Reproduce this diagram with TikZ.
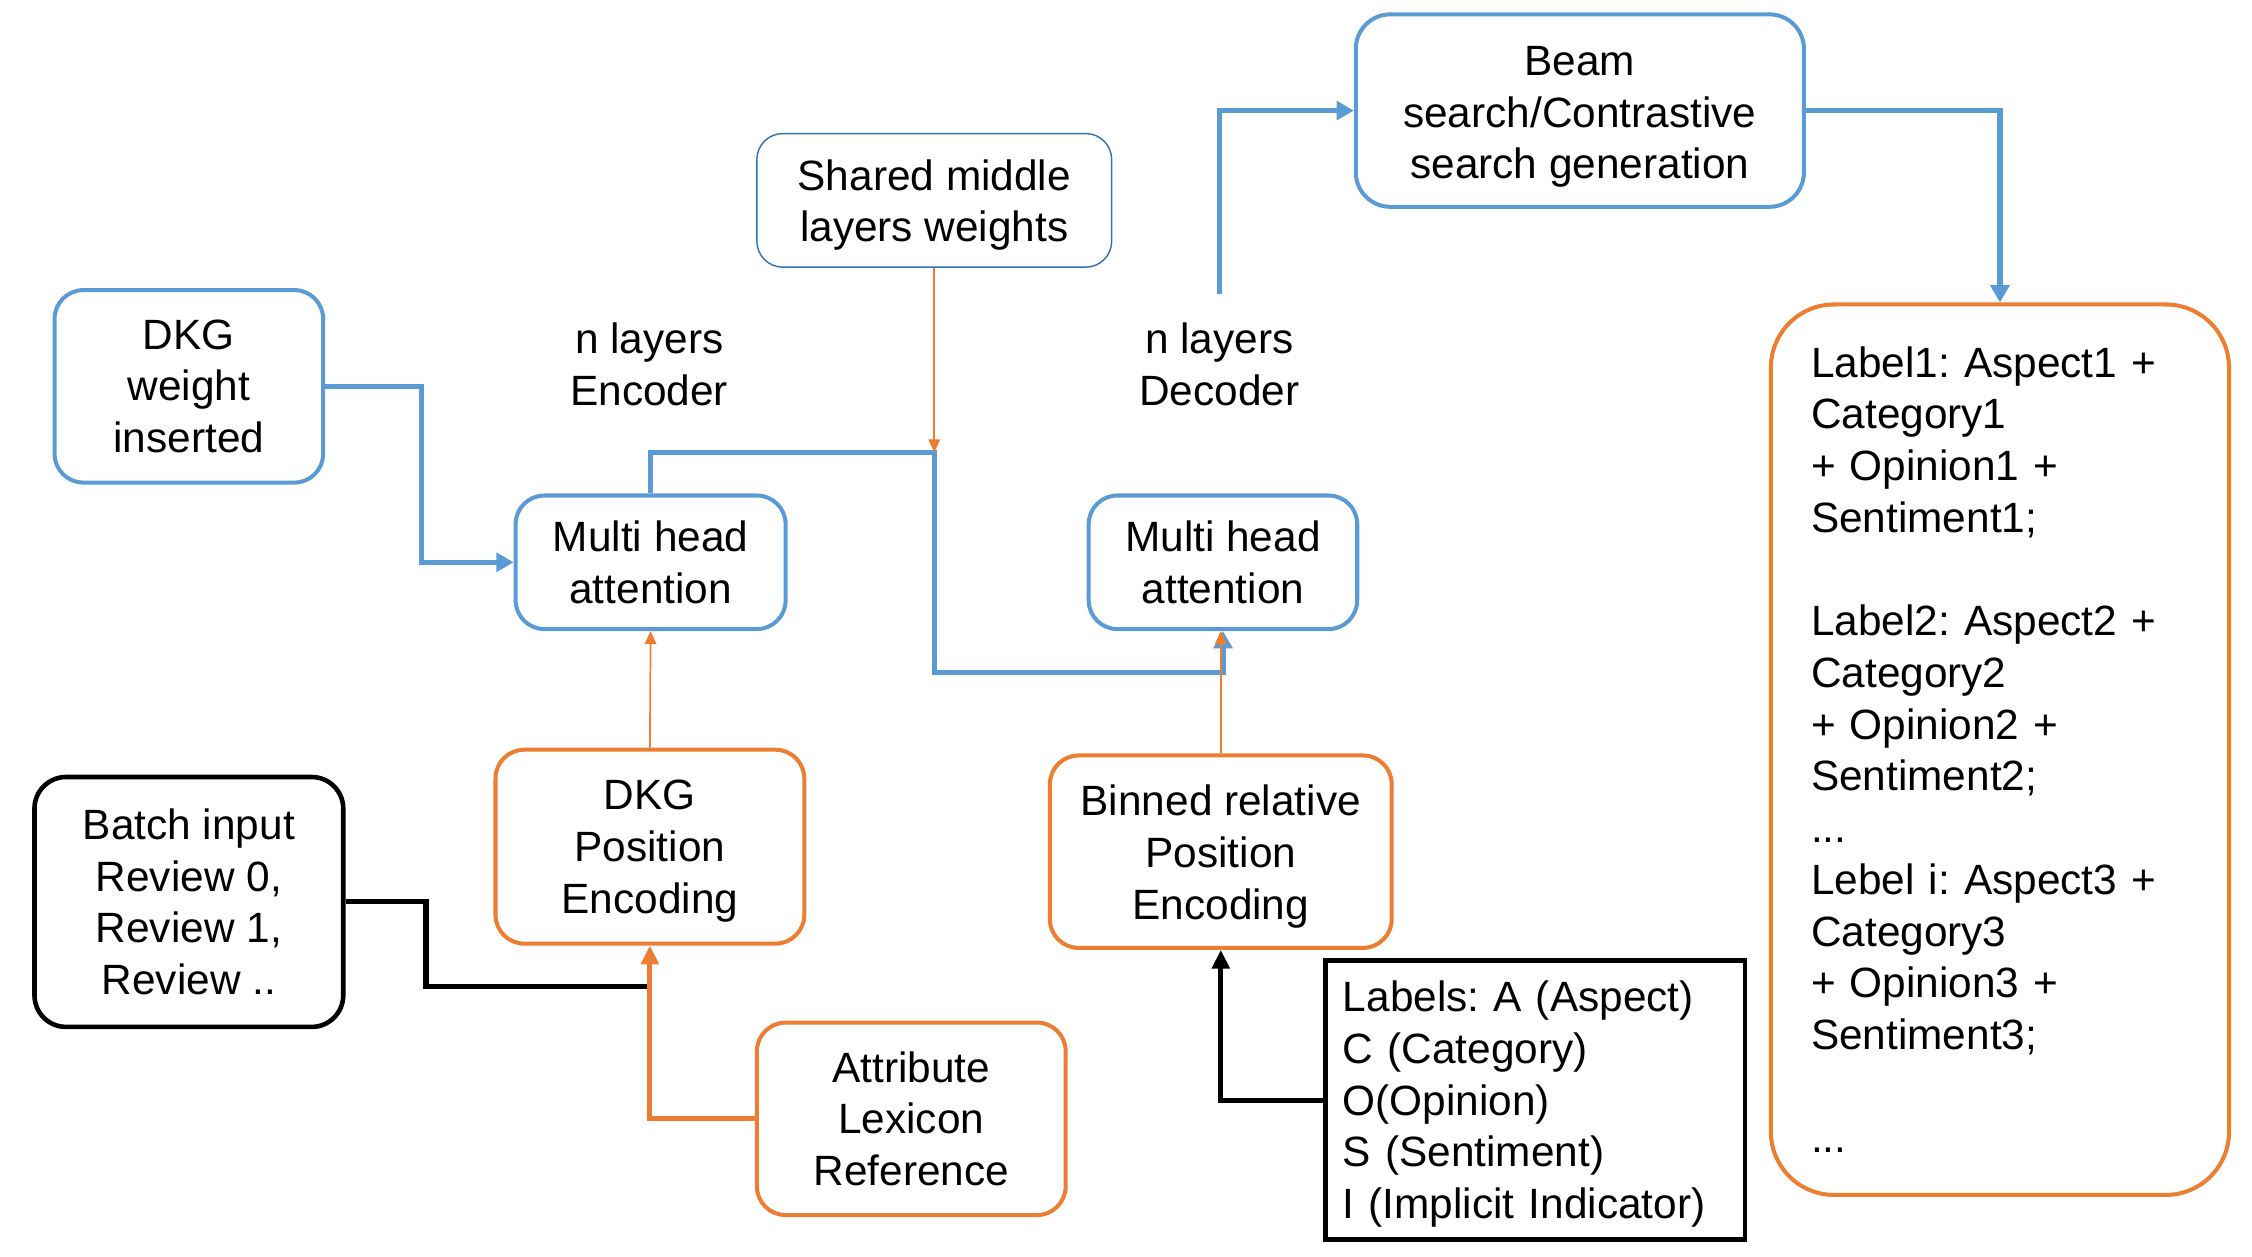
\documentclass[tikz,border=0pt]{standalone}
\usepackage{fontspec}
\setmainfont{Liberation Sans}
\usetikzlibrary{arrows.meta,calc}
\definecolor{myblue}{HTML}{5B9BD5}
\definecolor{myorange}{HTML}{ED7D31}
\definecolor{darkblue}{HTML}{2E75B6}
\frenchspacing
\newcommand\myup[1]{\rule{0pt}{#1}}
\begin{document}
\begin{tikzpicture}[x=1pt,y=-1pt,
  every node/.style={font=\fontsize{29.5}{36}\selectfont, inner sep=0pt, align=center},
  box/.style={draw, rounded corners=20pt, line width=2.8pt},
  bluebox/.style={box, draw=myblue},
  orangebox/.style={box, draw=myorange},
  blackbox/.style={box, draw=black, line width=3.2pt},
  bcon/.style={draw=myblue, line width=3.7pt},
  barrow/.style={bcon, -{Triangle[length=12pt,width=13pt]}},
  othin/.style={draw=myorange, line width=1.2pt, -{Triangle[length=9pt,width=8pt]}},
  othick/.style={draw=myorange, line width=3.5pt, -{Triangle[length=13pt,width=12pt]}},
  kthick/.style={draw=black, line width=3.5pt},
  karrow/.style={kthick, -{Triangle[length=13pt,width=12pt]}}
]
\useasboundingbox (0,0) rectangle (1568,875);

% nodes
\node[bluebox, minimum width=187pt, minimum height=134pt] (dkgw) at (131.5,269) {DKG\\weight\\inserted};
\node[bluebox, minimum width=188pt, minimum height=93pt] (menc) at (453,391.5) {Multi head\\attention};
\node[draw=darkblue, line width=1pt, rounded corners=18pt, minimum width=247pt, minimum height=93pt] (shared) at (650.5,139.5) {\myup{28pt}Shared middle\\layers weights};
\node (enclab) at (452,253.5) {n layers\\Encoder};
\node (declab) at (849,253.5) {n layers\\Decoder};
\node[bluebox, minimum width=187pt, minimum height=93pt] (mdec) at (851.5,391.5) {Multi head\\attention};
\node[bluebox, rounded corners=24pt, minimum width=312pt, minimum height=134pt] (beam) at (1100,77) {\myup{29pt}Beam\\search/Contrastive\\search generation};
\node[orangebox, rounded corners=44pt, minimum width=319pt, minimum height=620pt, align=left, text width=263pt, inner xsep=28pt] (out) at (1392.5,522)
 {Label1: Aspect1 +\\Category1\\+ Opinion1 +\\Sentiment1;\\[36pt]Label2: Aspect2 +\\Category2\\+ Opinion2 +\\Sentiment2;\\...\\Lebel i: Aspect3 +\\Category3\\+ Opinion3 +\\Sentiment3;\\[36pt]...};
\node[blackbox, rounded corners=22pt, minimum width=215pt, minimum height=174pt] (batch) at (131.5,628) {Batch input\\Review 0,\\Review 1,\\Review ..};
\node[orangebox, minimum width=215pt, minimum height=135pt] (dkgpos) at (452.5,589.5) {\myup{27pt}DKG\\Position\\Encoding};
\node[orangebox, minimum width=215pt, minimum height=134pt] (attr) at (634.5,779) {Attribute\\Lexicon\\Reference};
\node[orangebox, minimum width=238pt, minimum height=134pt] (binned) at (850,593) {\myup{28pt}Binned relative\\Position\\Encoding};
\node[draw=black, line width=3.3pt, minimum width=292pt, minimum height=194pt, align=left, text width=268pt, inner xsep=12pt] (labels) at (1069,766)
 {\myup{27pt}Labels: A (Aspect)\\C (Category)\\O(Opinion)\\S (Sentiment)\\I (Implicit Indicator)};

% coordinates
\coordinate (j1) at (650.5,315);
\coordinate (j2) at (851.5,468);
\coordinate (j3) at (452.5,687);
\coordinate (d0) at (849,205);

% connectors
\draw[barrow] (dkgw.east) -- ++(67,0) |- (menc.west);
\draw[barrow] (menc.north) |- (j1) |- (j2) -- (mdec.south);
\draw[othin] (shared.south) -- (j1);
\draw[othin] (dkgpos.north) -- (menc.south);
\draw[othin] (binned.north) -- (binned.north |- mdec.south);
\draw[barrow] (d0) |- (beam.west);
\draw[barrow] (beam.east) -| (out.north);
\draw[kthick] (batch.east) -- ++(56,0) |- (j3);
\draw[othick] (attr.west) -| (dkgpos.south);
\draw[karrow] (labels.west) -| (binned.south);
\end{tikzpicture}
\end{document}
